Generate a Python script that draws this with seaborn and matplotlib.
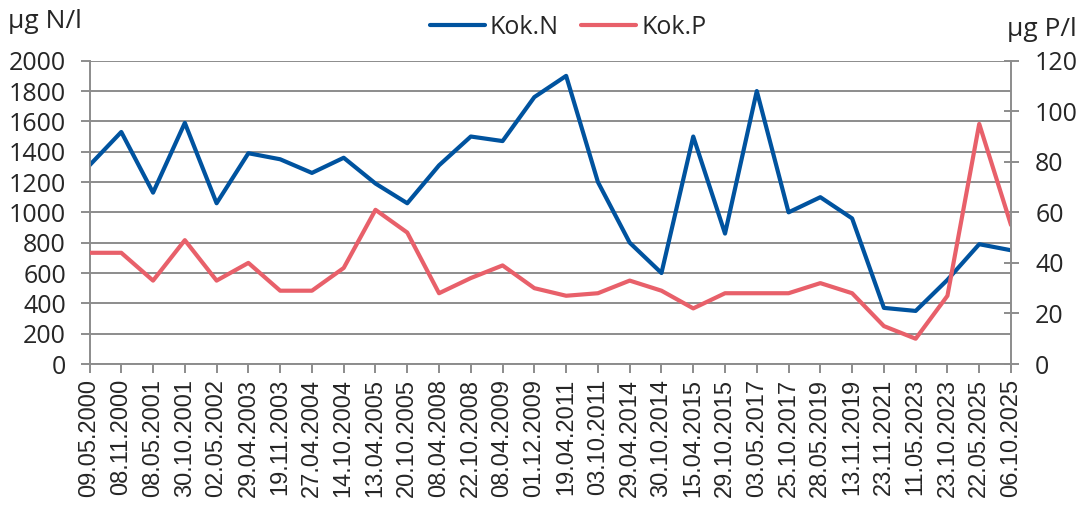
import matplotlib
matplotlib.use("Agg")
import matplotlib.pyplot as plt
import seaborn as sns
import pandas as pd

dates = ["09.05.2000", "08.11.2000", "08.05.2001", "30.10.2001", "02.05.2002",
         "29.04.2003", "19.11.2003", "27.04.2004", "14.10.2004", "13.04.2005",
         "20.10.2005", "08.04.2008", "22.10.2008", "08.04.2009", "01.12.2009",
         "19.04.2011", "03.10.2011", "29.04.2014", "30.10.2014", "15.04.2015",
         "29.10.2015", "03.05.2017", "25.10.2017", "28.05.2019", "13.11.2019",
         "23.11.2021", "11.05.2023", "23.10.2023", "22.05.2025", "06.10.2025"]
kok_n = [1310, 1530, 1130, 1590, 1060, 1390, 1350, 1260, 1360, 1190,
         1060, 1310, 1500, 1470, 1760, 1900, 1200, 800, 600, 1500,
         860, 1800, 1000, 1100, 960, 370, 350, 555, 790, 750]
kok_p = [44, 44, 33, 49, 33, 40, 29, 29, 38, 61,
         52, 28, 34, 39, 30, 27, 28, 33, 29, 22,
         28, 28, 28, 32, 28, 15, 10, 27, 95, 55]
left_ticks = list(range(0, 2001, 200))
right_ticks = list(range(0, 121, 20))

sns.set_style("white")
plt.rcParams['font.family'] = ['Open Sans', 'DejaVu Sans']

df = pd.DataFrame({"pos": range(len(dates)), "date": dates, "N": kok_n, "P": kok_p})

blue = "#00539F"
red = "#E8606A"
grid_c = "#8C8C8C"

W, H = 1080, 515
x0, x1, y0, y1 = 89.5, 1011, 60.7, 364
fig = plt.figure(figsize=(W / 100, H / 100), dpi=100)
ax = fig.add_axes([x0 / W, (H - y1) / H, (x1 - x0) / W, (y1 - y0) / H])
ax2 = ax.twinx()

sns.lineplot(data=df, x="pos", y="N", ax=ax, color=blue, linewidth=3.0, label="Kok.N", legend=False)
sns.lineplot(data=df, x="pos", y="P", ax=ax2, color=red, linewidth=3.0, label="Kok.P", legend=False)

ax.set_xlim(0, len(dates) - 1)
ax.set_ylim(0, 2000)
ax2.set_ylim(0, 120)
ax.set_yticks(left_ticks)
ax2.set_yticks(right_ticks)
ax.set_xticks(list(df["pos"]))
ax.set_xticklabels(dates, rotation=90, fontsize=17, family=['Liberation Sans', 'DejaVu Sans'])
ax.set_xlabel("")
ax.set_ylabel("")
ax2.set_ylabel("")

ax.grid(axis="y", color=grid_c, linewidth=1.4)
ax.grid(axis="x", visible=False)
ax2.grid(False)
ax.set_axisbelow(True)

for a in (ax, ax2):
    for s in a.spines.values():
        s.set_visible(False)
for a, side in ((ax, "left"), (ax, "bottom"), (ax2, "right")):
    a.spines[side].set_visible(True)
    a.spines[side].set_color(grid_c)
    a.spines[side].set_linewidth(1.4)

ax.tick_params(axis="y", direction="out", length=6.5, width=1.4, color=grid_c,
               labelsize=18, pad=10.5, left=True)
ax.tick_params(axis="x", direction="out", length=6.5, width=1.4, color=grid_c,
               pad=4, bottom=True)
ax2.tick_params(axis="y", direction="inout", length=10.8, width=1.4, color=grid_c,
                labelsize=18, pad=12, right=True)

fig.text(8 / W, 1 - 22 / H, "µg N/l", fontsize=19, va="center", ha="left")
fig.text(1077 / W, 1 - 30 / H, "µg P/l", fontsize=19, va="center", ha="right")

h1, l1 = ax.get_legend_handles_labels()
h2, l2 = ax2.get_legend_handles_labels()
fig.legend(h1 + h2, l1 + l2, loc="center", bbox_to_anchor=(568 / W, 1 - 27 / H),
           ncol=2, frameon=False, fontsize=18, handlelength=2.2, handletextpad=0.2,
           columnspacing=0.9)

fig.savefig("out.png", dpi=100)
